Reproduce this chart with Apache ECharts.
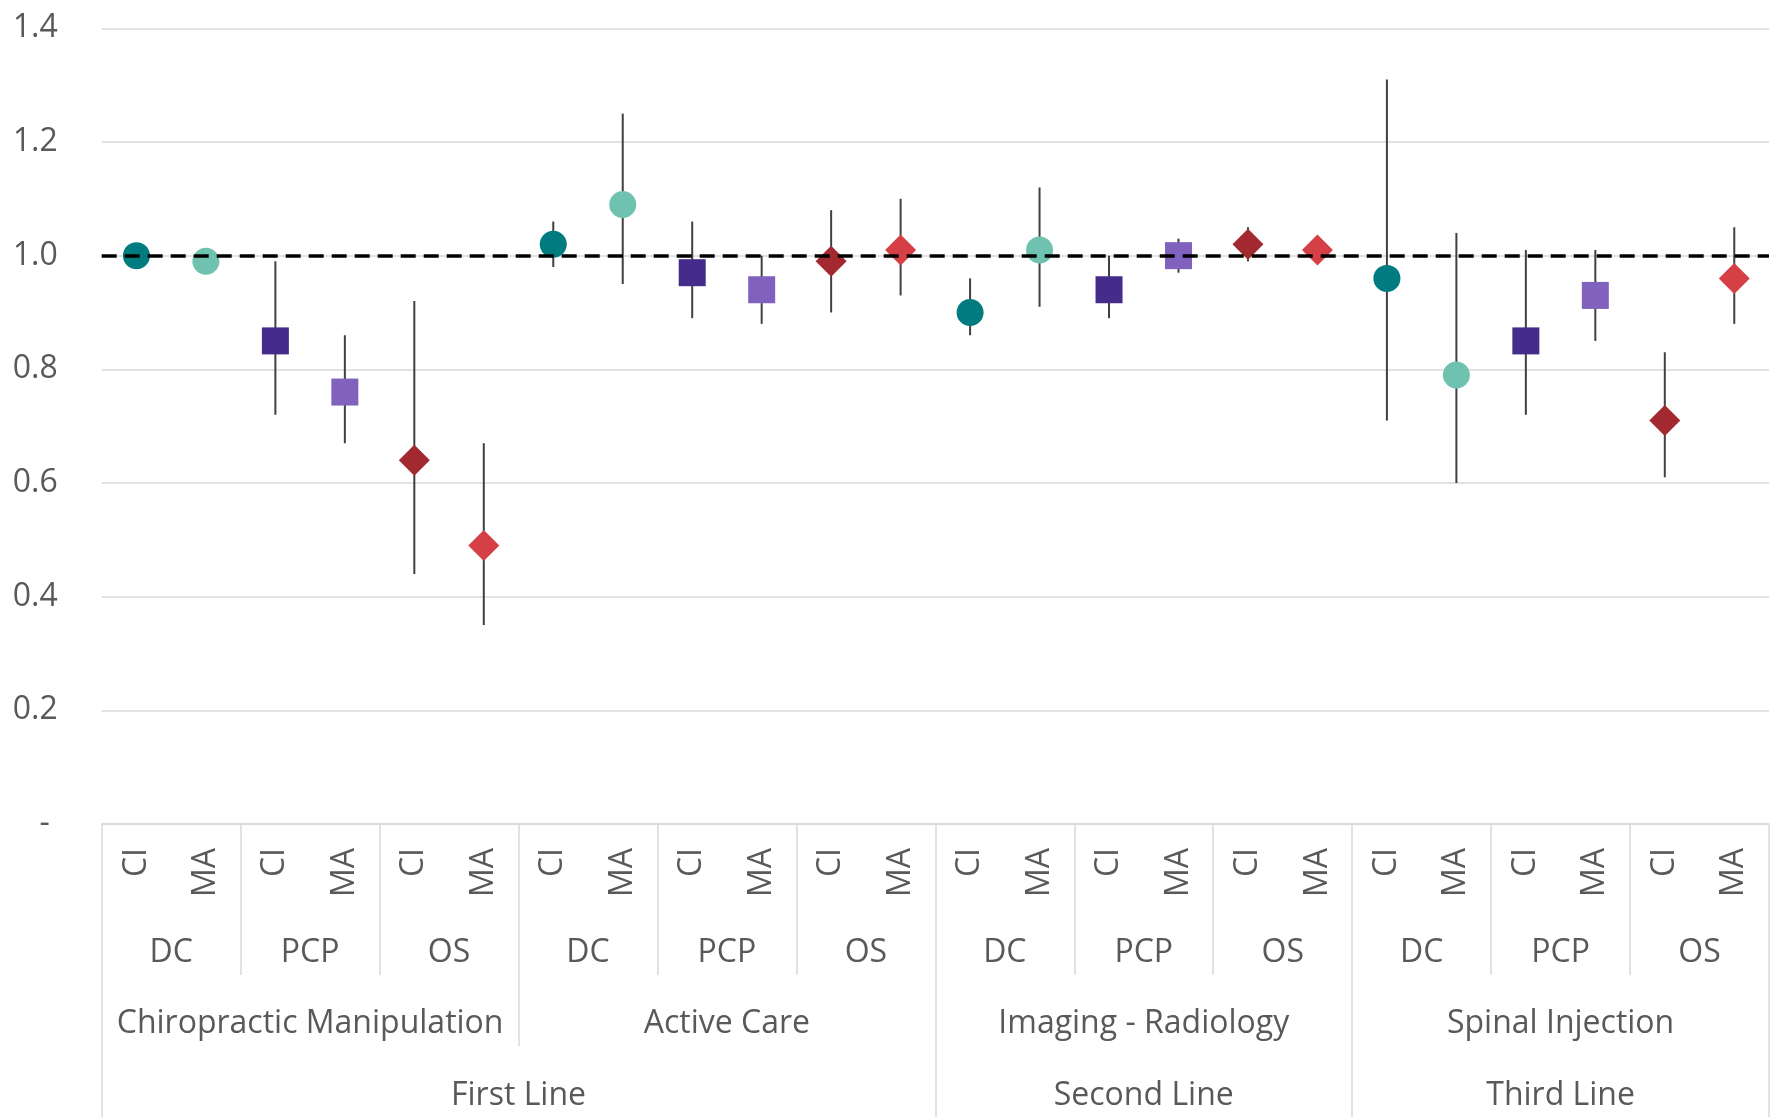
<!DOCTYPE html>
<html><head><meta charset="utf-8">
<script src="https://cdn.jsdelivr.net/npm/echarts@6/dist/echarts.min.js"></script>
<style>html,body{margin:0;padding:0;background:#fff}#c{width:1772px;height:1117px}</style>
</head><body><div id="c"></div>
<script>
// ---- data ----
const measures = ['CI','MA','CI','MA','CI','MA','CI','MA','CI','MA','CI','MA',
                  'CI','MA','CI','MA','CI','MA','CI','MA','CI','MA','CI','MA'];
const providers = ['DC','PCP','OS'];
const treatments = ['Chiropractic Manipulation','Active Care','Imaging - Radiology','Spinal Injection'];
const treatmentLines = ['First Line','First Line','Second Line','Third Line'];
const values = [1.00,0.99,0.85,0.76,0.64,0.49,
                1.02,1.09,0.97,0.94,0.99,1.01,
                0.90,1.01,0.94,1.00,1.02,1.01,
                0.96,0.79,0.85,0.93,0.71,0.96];
const lows   = [0.99,0.98,0.72,0.67,0.44,0.35,
                0.98,0.95,0.89,0.88,0.90,0.93,
                0.86,0.91,0.89,0.97,0.99,0.99,
                0.71,0.60,0.72,0.85,0.61,0.88];
const highs  = [1.01,1.00,0.99,0.86,0.92,0.67,
                1.06,1.25,1.06,1.00,1.08,1.10,
                0.96,1.12,1.00,1.03,1.05,1.03,
                1.31,1.04,1.01,1.01,0.83,1.05];
const yTicks = [0,0.2,0.4,0.6,0.8,1.0,1.2,1.4];
const refValue = 1.0;

// ---- styles ----
const FONT = 'Open Sans';
const FS = 32;
const TXT = '#595959';
const GRIDC = '#d9d9d9';
const styleMap = {
  'DC CI':  {color:'#007C80', symbol:'circle',  size:27},
  'DC MA':  {color:'#70C2B0', symbol:'circle',  size:27},
  'PCP CI': {color:'#452B8A', symbol:'rect',    size:27},
  'PCP MA': {color:'#8062BE', symbol:'rect',    size:27},
  'OS CI':  {color:'#A2292F', symbol:'diamond', size:31},
  'OS MA':  {color:'#D44046', symbol:'diamond', size:31}
};

const nCat = measures.length;
const perTreatment = nCat / treatments.length;
const providerOf = i => providers[Math.floor(i/2) % providers.length];
const treatmentOf = i => Math.floor(i/perTreatment);

// spans of the top level (in category units)
const lineCenters = {};
const lineBounds = [0];
(function(){
  let idx = 0;
  while (idx < treatmentLines.length) {
    let j = idx;
    while (j < treatmentLines.length && treatmentLines[j] === treatmentLines[idx]) j++;
    const s = idx*perTreatment, e = j*perTreatment;
    lineCenters[(s+e)/2] = treatmentLines[idx];
    lineBounds.push(e);
    idx = j;
  }
})();

const scatterSeries = [];
providers.forEach(p => ['CI','MA'].forEach(m => {
  const key = p + ' ' + m;
  const st = styleMap[key];
  const data = [];
  for (let i = 0; i < nCat; i++) {
    if (providerOf(i) === p && measures[i] === m) data.push([i, values[i]]);
  }
  scatterSeries.push({
    name: key, type: 'scatter', xAxisIndex: 0, yAxisIndex: 0,
    data, symbol: st.symbol, symbolSize: st.size,
    itemStyle: {color: st.color, opacity: 1},
    z: 3, silent: true
  });
}));

const errData = values.map((v, i) => [i, lows[i], highs[i]]);
const catData = measures.slice();
const tickStyle = {color: GRIDC, width: 1.5};
const lbl = {fontFamily: FONT, fontSize: FS, color: TXT};

const option = {
  animation: false,
  backgroundColor: '#fff',
  grid: {left: 101.7, right: 0, top: 28.3, bottom: 293, containLabel: false},
  xAxis: [
    { type: 'category', data: catData, position: 'bottom',
      axisLine: {show: true, lineStyle: {color: GRIDC, width: 1.5}},
      axisTick: {show: true, length: 151, interval: (i) => i % 2 === 0, lineStyle: tickStyle},
      axisLabel: Object.assign({interval: 0, rotate: 90, margin: 24}, lbl),
      splitLine: {show: false}
    },
    { type: 'category', data: catData, position: 'bottom',
      axisLine: {show: false},
      axisTick: {show: true, length: 222, interval: (i) => i % perTreatment === 0, lineStyle: tickStyle},
      axisLabel: {show: false}, splitLine: {show: false}
    },
    { type: 'category', data: catData, position: 'bottom',
      axisLine: {show: false},
      axisTick: {show: true, length: 293, interval: (i) => lineBounds.indexOf(i) >= 0, lineStyle: tickStyle},
      axisLabel: {show: false}, splitLine: {show: false}
    },
    { type: 'value', min: 0, max: nCat, interval: 1, position: 'bottom', offset: 113,
      axisLine: {show: false}, axisTick: {show: false}, splitLine: {show: false},
      axisLabel: Object.assign({margin: 0, formatter: v => (v % 2 === 1) ? providerOf(v - 1) : ''}, lbl)
    },
    { type: 'value', min: 0, max: nCat, interval: 3, position: 'bottom', offset: 184,
      axisLine: {show: false}, axisTick: {show: false}, splitLine: {show: false},
      axisLabel: Object.assign({margin: 0, formatter: v => (v % perTreatment === perTreatment/2) ? treatments[treatmentOf(v)] : ''}, lbl)
    },
    { type: 'value', min: 0, max: nCat, interval: 3, position: 'bottom', offset: 256,
      axisLine: {show: false}, axisTick: {show: false}, splitLine: {show: false},
      axisLabel: Object.assign({margin: 0, formatter: v => lineCenters[v] || ''}, lbl)
    }
  ],
  yAxis: {
    type: 'value', min: yTicks[0], max: yTicks[yTicks.length-1], interval: 0.2,
    axisLine: {show: false}, axisTick: {show: false},
    splitLine: {show: true, lineStyle: {color: GRIDC, width: 1.5}},
    axisLabel: Object.assign({margin: 44,
      formatter: v => Math.abs(v) < 1e-9 ? '{d|-}' : v.toFixed(1),
      rich: {d: {padding: [0, 8, 0, 0], fontFamily: FONT, fontSize: FS, color: TXT}}}, lbl)
  },
  series: [
    { type: 'custom', name: 'err', xAxisIndex: 0, yAxisIndex: 0, z: 2, silent: true,
      data: errData,
      renderItem: (params, api) => {
        const x = api.value(0);
        const p1 = api.coord([x, api.value(1)]);
        const p2 = api.coord([x, api.value(2)]);
        return {type: 'line', shape: {x1: p1[0], y1: p1[1], x2: p2[0], y2: p2[1]},
                style: {stroke: '#404040', lineWidth: 2}};
      }
    },
    ...scatterSeries,
    { type: 'scatter', name: 'ref', data: [], xAxisIndex: 0, yAxisIndex: 0, z: 10, silent: true,
      markLine: {silent: true, symbol: 'none', label: {show: false}, animation: false,
        lineStyle: {color: '#000', width: 3.5, type: [15, 8]},
        data: [{yAxis: refValue}]}
    }
  ]
};
const chart = echarts.init(document.getElementById('c'));
chart.setOption(option);
</script></body></html>
